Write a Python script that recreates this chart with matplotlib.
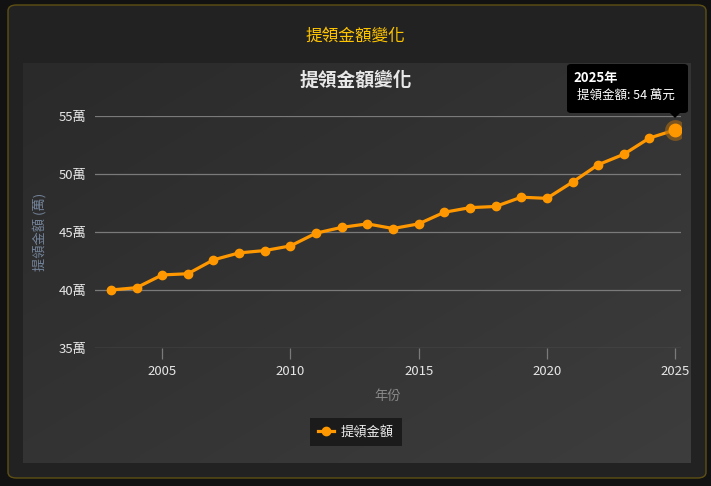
import matplotlib.pyplot as plt
import numpy as np
from matplotlib.patches import FancyBboxPatch, Polygon
from matplotlib.lines import Line2D
from matplotlib.colors import LinearSegmentedColormap

plt.rcParams['font.family'] = ['Noto Sans CJK TC', 'DejaVu Sans']

years = list(range(2003, 2026))
amounts = [40.0, 40.2, 41.3, 41.4, 42.6, 43.2, 43.4, 43.8, 44.9, 45.4, 45.7,
           45.3, 45.7, 46.7, 47.1, 47.2, 48.0, 47.9, 49.3, 50.8, 51.7, 53.1, 53.8]
yticks = [35, 40, 45, 50, 55]
xticks = [2005, 2010, 2015, 2020, 2025]

W, H = 711, 486
ORANGE = '#ff9800'


def fx(px):
    return px / W


def fy(py):
    return 1 - py / H


def main():
    fig = plt.figure(figsize=(W / 100, H / 100), dpi=100)
    fig.patch.set_facecolor('#121212')

    # card
    card = FancyBboxPatch((fx(8), fy(478)), fx(698), 473 / H,
                          boxstyle="round,pad=0,rounding_size=0.012",
                          transform=fig.transFigure, facecolor='#222222',
                          edgecolor='#5e5014', linewidth=1.0, zorder=-10)
    fig.patches.append(card)
    fig.text(0.5, fy(36), "提領金額變化", color='#ffc400', fontsize=12,
             ha='center', va='center')

    # panel with soft gradient
    bg = fig.add_axes([fx(23), fy(463), fx(668), 400 / H], zorder=-5)
    gx, gy = np.meshgrid(np.linspace(0, 1, 200), np.linspace(0, 1, 200))
    grad = (gx + gy) / 2
    cmap = LinearSegmentedColormap.from_list('g', ['#2a2a2a', '#3d3d3d'])
    bg.imshow(grad, cmap=cmap, aspect='auto', extent=[0, 1, 0, 1],
              origin='upper')
    bg.axis('off')

    ax = fig.add_axes([fx(95), fy(348), fx(586), 232 / H])
    ax.set_facecolor('none')
    ax.plot(years, amounts, color=ORANGE, lw=2.3, marker='o', ms=6,
            label='提領金額', zorder=3)
    # hovered point
    ax.plot(years[-1], amounts[-1], 'o', ms=15, color='#a86a14', alpha=0.6,
            mec='none', zorder=4)
    ax.plot(years[-1], amounts[-1], 'o', ms=9, color=ORANGE, zorder=5)

    ax.set_xlim(2002.38, 2025.23)
    ax.set_ylim(35, 55)
    ax.set_yticks(yticks)
    ax.set_yticklabels([f"{v}萬" for v in yticks])
    ax.set_xticks(xticks)
    ax.grid(axis='y', color='#7a7a7a', lw=0.9)
    for s in ax.spines.values():
        s.set_visible(False)
    ax.tick_params(axis='y', length=0, pad=6, colors='#e6e6e6', labelsize=9.5)
    ax.tick_params(axis='x', length=8, width=0.9, color='#7a7a7a', pad=4,
                   labelcolor='#e6e6e6', labelsize=9.5)
    ax.set_xlabel("年份", color='#8a8a8a', fontsize=9.5, labelpad=9)
    ax.set_ylabel("提領金額 (萬)", color='#74849a', fontsize=9.5, labelpad=8)

    fig.text(fx(356), fy(80), "提領金額變化", color='#e8e8e8', fontsize=13.5,
             fontweight='bold', ha='center', va='center')

    # tooltip
    tip = FancyBboxPatch((fx(567), fy(113)), fx(121), 49 / H,
                         boxstyle="round,pad=0,rounding_size=0.006",
                         transform=fig.transFigure, facecolor='black',
                         edgecolor='none', zorder=10)
    fig.patches.append(tip)
    fig.patches.append(Polygon([(fx(669), fy(112)), (fx(681), fy(112)),
                                (fx(675), fy(118))], closed=True,
                               transform=fig.transFigure, facecolor='black',
                               edgecolor='none', zorder=10))
    fig.text(fx(573), fy(78), f"{years[-1]}年", color='white', fontsize=9.5,
             fontweight='bold', va='center', zorder=11)
    fig.text(fx(577), fy(95), f"提領金額: {round(amounts[-1])} 萬元",
             color='white', fontsize=9, va='center', zorder=11)

    handle = Line2D([], [], color=ORANGE, lw=2.3, marker='o', ms=6)
    leg = fig.legend([handle], ['提領金額'], loc='center',
                     bbox_to_anchor=(fx(356), fy(432)), frameon=True,
                     fancybox=False, facecolor='#1b1b1b', edgecolor='none',
                     framealpha=1, fontsize=9.5, handlelength=1.2,
                     handletextpad=0.5, borderpad=0.6)
    for t in leg.get_texts():
        t.set_color('#eeeeee')

    fig.savefig('out.png', dpi=100, facecolor=fig.get_facecolor())


if __name__ == "__main__":
    main()
